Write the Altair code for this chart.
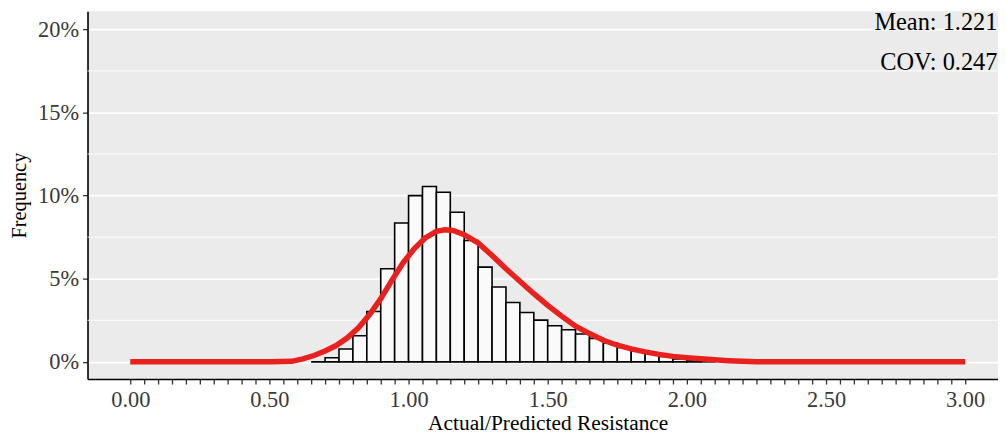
import altair as alt
import pandas as pd

# Histogram: bin starts (width 0.05) and frequency in percent
bin_starts = [0.65, 0.70, 0.75, 0.80, 0.85, 0.90, 0.95, 1.00, 1.05, 1.10,
              1.15, 1.20, 1.25, 1.30, 1.35, 1.40, 1.45, 1.50, 1.55, 1.60,
              1.65, 1.70, 1.75, 1.80, 1.85, 1.90, 1.95, 2.00, 2.05]
bin_freq = [0.0, 0.25, 0.77, 1.57, 3.03, 5.6, 8.35, 10.0, 10.55, 10.2,
            9.0, 7.3, 5.7, 4.5, 3.57, 2.97, 2.51, 2.17, 1.93, 1.67,
            1.41, 1.13, 0.87, 0.67, 0.48, 0.32, 0.18, 0.1, 0.04]
bin_width = 0.05

# Fitted curve (percent)
curve_x = [0.00, 0.50, 0.58, 0.62, 0.66, 0.70, 0.74, 0.78, 0.82, 0.86,
           0.90, 0.94, 0.98, 1.02, 1.06, 1.10, 1.13, 1.16, 1.20, 1.25,
           1.30, 1.35, 1.40, 1.45, 1.50, 1.55, 1.60, 1.65, 1.70, 1.75,
           1.80, 1.85, 1.90, 1.95, 2.00, 2.05, 2.10, 2.15, 2.20, 2.25, 3.00]
curve_y = [0.0, 0.0, 0.03, 0.18, 0.38, 0.65, 0.98, 1.45, 2.05, 2.85,
           3.8, 4.9, 5.95, 6.8, 7.45, 7.85, 7.94, 7.9, 7.65, 7.15,
           6.4, 5.6, 4.85, 4.1, 3.4, 2.75, 2.15, 1.7, 1.3, 1.0,
           0.78, 0.6, 0.45, 0.33, 0.25, 0.18, 0.12, 0.07, 0.03, 0.0, 0.0]

minor_grid = [0.025, 0.075, 0.125, 0.175]
y_ticks = [0.0, 0.05, 0.10, 0.15, 0.20]
x_ticks = [round(i * 0.05, 2) for i in range(61)]

ann_x = [3.116, 3.116]
ann_y = [0.204, 0.180]
ann_text = ["Mean: 1.221", "COV: 0.247"]

FONT = "Liberation Serif"
X_DOMAIN = [-0.1536, 3.118]
Y_DOMAIN = [-0.01035, 0.2109]

bars = pd.DataFrame({
    "x0": bin_starts,
    "x1": [b + bin_width for b in bin_starts],
    "freq": [f / 100 for f in bin_freq],
})
curve = pd.DataFrame({"x": curve_x, "y": [v / 100 for v in curve_y]})
grid = pd.DataFrame({"y": minor_grid})
ann = pd.DataFrame({"x": ann_x, "y": ann_y, "t": ann_text})

xscale = alt.Scale(domain=X_DOMAIN, nice=False, zero=False)
yscale = alt.Scale(domain=Y_DOMAIN, nice=False, zero=False)

xaxis = alt.Axis(
    values=x_ticks,
    labelExpr="abs(datum.value*2 - round(datum.value*2)) < 0.001 ? format(datum.value, '.2f') : ''",
    labelOverlap=False, labelFlush=False, grid=False,
    title="Actual/Predicted Resistance",
    labelFont=FONT, labelFontSize=22.5, labelColor="#3a3a3a", labelPadding=5,
    titleFont=FONT, titleFontSize=21.5, titleFontWeight="normal", titleColor="black",
    titlePadding=1, titleX=463,
    tickSize=5, tickColor="#333333", tickWidth=1.3,
    domainColor="black", domainWidth=1.6,
)
yaxis = alt.Axis(
    values=y_ticks, format=".0%", grid=True, gridColor="white", gridWidth=1.6,
    title="Frequency",
    labelFont=FONT, labelFontSize=22.5, labelColor="#3a3a3a", labelPadding=4,
    titleFont=FONT, titleFontSize=20.5, titleFontWeight="normal", titleColor="black",
    titlePadding=8,
    tickSize=5, tickColor="#333333", tickWidth=1.3,
    domainColor="black", domainWidth=1.6,
)

minor = alt.Chart(grid).mark_rule(color="white", strokeWidth=0.9).encode(
    y=alt.Y("y:Q", scale=yscale, axis=yaxis)
)

hist = alt.Chart(bars).mark_rect(fill="#FAFAFA", stroke="black", strokeWidth=1.6).encode(
    x=alt.X("x0:Q", scale=xscale, axis=xaxis),
    x2="x1:Q",
    y=alt.Y("freq:Q", scale=yscale, axis=yaxis),
    y2=alt.datum(0),
)

line = alt.Chart(curve).mark_line(color="#E8211F", strokeWidth=5.5).encode(
    x=alt.X("x:Q", scale=xscale, axis=xaxis),
    y=alt.Y("y:Q", scale=yscale, axis=yaxis),
)

text = alt.Chart(ann).mark_text(
    font=FONT, fontSize=24.5, align="right", baseline="middle", color="black"
).encode(
    x=alt.X("x:Q", scale=xscale, axis=xaxis),
    y=alt.Y("y:Q", scale=yscale, axis=yaxis),
    text="t:N",
)

chart = alt.layer(minor, hist, line, text).properties(
    width=916, height=370,
    background="white",
    autosize=alt.AutoSizeParams(type="none"),
    padding={"left": 80, "top": 2, "right": 0, "bottom": 54},
).configure_view(fill="#EBEBEB", strokeWidth=0)

chart.save("out.html", embed_options={"renderer": "svg", "actions": False})
